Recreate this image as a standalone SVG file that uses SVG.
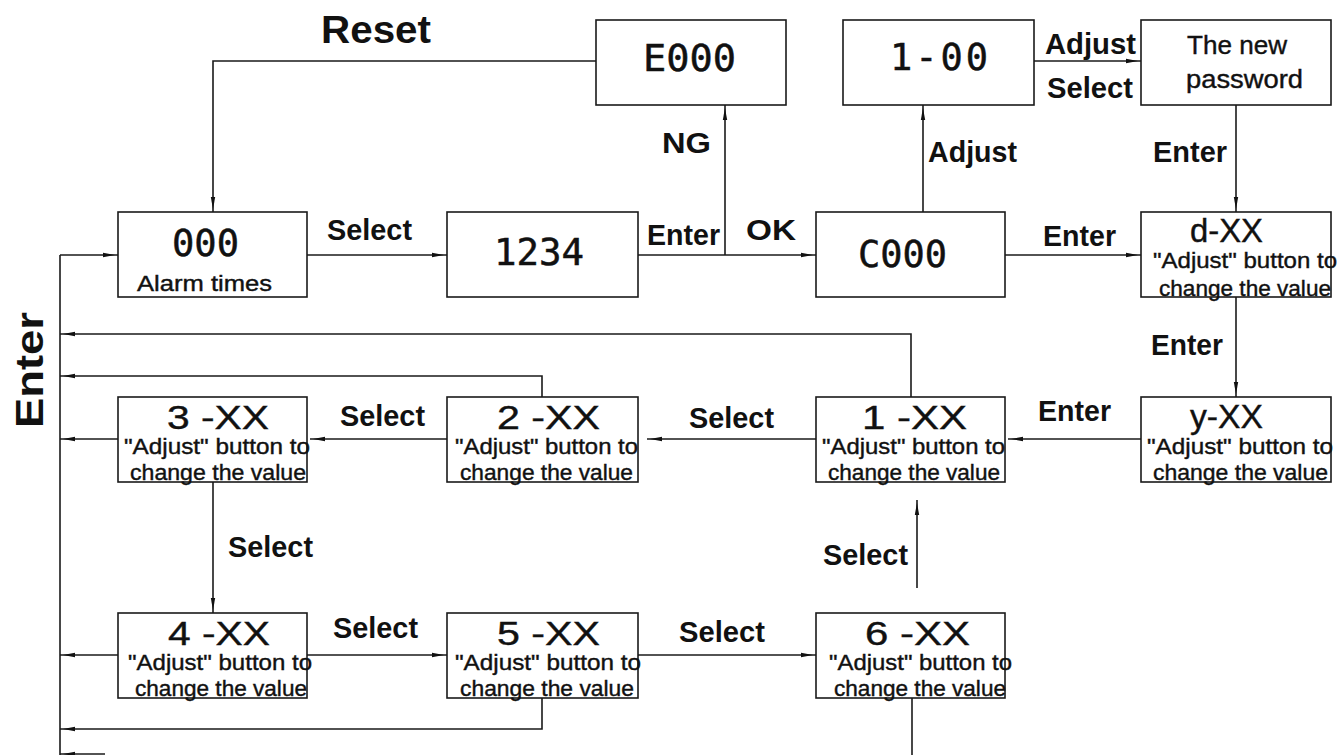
<svg xmlns="http://www.w3.org/2000/svg" width="1341" height="755" viewBox="0 0 1341 755">
<style>
.box{fill:#fff;stroke:#1a1a1a;stroke-width:1.6}
.ln{fill:none;stroke:#1a1a1a;stroke-width:1.6}
.ar{marker-end:url(#ah)}
.lbl{font-family:"Liberation Sans",Arial,sans-serif;font-weight:bold;font-size:29px;fill:#111}
.big{font-family:"Liberation Sans",Arial,sans-serif;font-weight:bold;font-size:38px;fill:#111}
.dig{font-family:"DejaVu Sans Mono","Liberation Mono",monospace;font-size:37px;fill:#111;stroke:#111;stroke-width:0.5}
.ttl{font-family:"Liberation Sans",Arial,sans-serif;font-size:33px;fill:#111;stroke:#111;stroke-width:0.4}
.sub{font-family:"Liberation Sans",Arial,sans-serif;font-size:22px;fill:#111;stroke:#111;stroke-width:0.4}
.pw{font-family:"Liberation Sans",Arial,sans-serif;font-size:26px;fill:#111;stroke:#111;stroke-width:0.4}
</style>
<defs>
<marker id="ah" viewBox="0 0 12 6" markerWidth="12" markerHeight="6" refX="15" refY="3" orient="auto" markerUnits="userSpaceOnUse">
<path d="M0,0.8 L12,3 L0,5.2 z" fill="#111"/>
</marker>
</defs>
<rect width="1341" height="755" fill="#fff"/>

<g id="connectors">
<path class="ln" d="M60,255 V755"/>
<path class="ln ar" d="M60,255 H118"/>
<path class="ln ar" d="M596,61 H213 V212"/>
<path class="ln ar" d="M307,255 H447"/>
<path class="ln ar" d="M638,255 H816"/>
<path class="ln ar" d="M725,255 V105"/>
<path class="ln ar" d="M923,212 V105"/>
<path class="ln ar" d="M1034,61 H1141"/>
<path class="ln ar" d="M1005,255 H1141"/>
<path class="ln ar" d="M1236,105 V212"/>
<path class="ln ar" d="M1236,297 V397"/>
<path class="ln ar" d="M1141,439 H1008"/>
<path class="ln ar" d="M816,439 H647"/>
<path class="ln ar" d="M447,439 H310"/>
<path class="ln ar" d="M118,439 H60"/>
<path class="ln ar" d="M911,397 V334 H60"/>
<path class="ln ar" d="M542,397 V376 H60"/>
<path class="ln ar" d="M213,482 V613"/>
<path class="ln ar" d="M307,655 H447"/>
<path class="ln ar" d="M638,655 H816"/>
<path class="ln ar" d="M118,655 H60"/>
<path class="ln ar" d="M917,588 V500"/>
<path class="ln ar" d="M542,698 V729 H60"/>
<path class="ln" d="M912,698 V755"/>
<path class="ln ar" d="M105,754 H60"/>
</g>

<g id="labels">
<text class="big" x="321" y="43" textLength="110" lengthAdjust="spacingAndGlyphs">Reset</text>
<text class="big" transform="translate(43,428) rotate(-90)" textLength="116" lengthAdjust="spacingAndGlyphs">Enter</text>
<text class="lbl" x="327" y="240" textLength="85" lengthAdjust="spacingAndGlyphs">Select</text>
<text class="lbl" x="647" y="245" textLength="73" lengthAdjust="spacingAndGlyphs">Enter</text>
<text class="lbl" x="746" y="240" textLength="50" lengthAdjust="spacingAndGlyphs">OK</text>
<text class="lbl" x="662" y="153" textLength="49" lengthAdjust="spacingAndGlyphs">NG</text>
<text class="lbl" x="1045" y="54" textLength="91" lengthAdjust="spacingAndGlyphs">Adjust</text>
<text class="lbl" x="1047" y="98" textLength="86" lengthAdjust="spacingAndGlyphs">Select</text>
<text class="lbl" x="928" y="162" textLength="89" lengthAdjust="spacingAndGlyphs">Adjust</text>
<text class="lbl" x="1153" y="162" textLength="74" lengthAdjust="spacingAndGlyphs">Enter</text>
<text class="lbl" x="1043" y="246" textLength="73" lengthAdjust="spacingAndGlyphs">Enter</text>
<text class="lbl" x="1151" y="355" textLength="72" lengthAdjust="spacingAndGlyphs">Enter</text>
<text class="lbl" x="1038" y="421" textLength="73" lengthAdjust="spacingAndGlyphs">Enter</text>
<text class="lbl" x="689" y="428" textLength="85" lengthAdjust="spacingAndGlyphs">Select</text>
<text class="lbl" x="340" y="426" textLength="85" lengthAdjust="spacingAndGlyphs">Select</text>
<text class="lbl" x="228" y="557" textLength="85" lengthAdjust="spacingAndGlyphs">Select</text>
<text class="lbl" x="333" y="638" textLength="85" lengthAdjust="spacingAndGlyphs">Select</text>
<text class="lbl" x="679" y="642" textLength="86" lengthAdjust="spacingAndGlyphs">Select</text>
<text class="lbl" x="823" y="565" textLength="85" lengthAdjust="spacingAndGlyphs">Select</text>
</g>

<g id="n000">
<rect class="box" x="118" y="212" width="189" height="85"/>
<text class="dig" x="172" y="256" textLength="67" lengthAdjust="spacingAndGlyphs">000</text>
<text class="sub" x="137" y="291" textLength="135" lengthAdjust="spacingAndGlyphs">Alarm times</text>
</g>
<g id="n1234">
<rect class="box" x="447" y="212" width="191" height="85"/>
<text class="dig" x="494" y="265" textLength="90" lengthAdjust="spacingAndGlyphs">1234</text>
</g>
<g id="nE000">
<rect class="box" x="596" y="20" width="190" height="85"/>
<text class="dig" x="643" y="71" textLength="93" lengthAdjust="spacingAndGlyphs">E000</text>
</g>
<g id="n100">
<rect class="box" x="843" y="20" width="191" height="85"/>
<text class="dig" x="890" y="70" textLength="98" lengthAdjust="spacing">1-00</text>
</g>
<g id="nNewPassword">
<rect class="box" x="1141" y="20" width="190" height="85"/>
<text class="pw" x="1187" y="54" textLength="100" lengthAdjust="spacingAndGlyphs">The new</text>
<text class="pw" x="1186" y="88" textLength="117" lengthAdjust="spacingAndGlyphs">password</text>
</g>
<g id="nC000">
<rect class="box" x="816" y="212" width="189" height="85"/>
<text class="dig" x="858" y="267" textLength="89" lengthAdjust="spacingAndGlyphs">C000</text>
</g>
<g id="nd">
<rect class="box" x="1141" y="212" width="190" height="85"/>
<text class="ttl" x="1190" y="242" textLength="73" lengthAdjust="spacingAndGlyphs">d-XX</text>
<text class="sub" x="1153" y="268" textLength="184" lengthAdjust="spacingAndGlyphs">"Adjust" button to</text>
<text class="sub" x="1159" y="296" textLength="172" lengthAdjust="spacingAndGlyphs">change the value</text>
</g>
<g id="ny">
<rect class="box" x="1141" y="397" width="190" height="85"/>
<text class="ttl" x="1190" y="428" textLength="73" lengthAdjust="spacingAndGlyphs">y-XX</text>
<text class="sub" x="1147" y="454" textLength="186" lengthAdjust="spacingAndGlyphs">"Adjust" button to</text>
<text class="sub" x="1153" y="480" textLength="175" lengthAdjust="spacingAndGlyphs">change the value</text>
</g>
<g id="n1">
<rect class="box" x="816" y="397" width="189" height="85"/>
<text class="ttl" x="862" y="429" textLength="105" lengthAdjust="spacingAndGlyphs">1 -XX</text>
<text class="sub" x="822" y="454" textLength="183" lengthAdjust="spacingAndGlyphs">"Adjust" button to</text>
<text class="sub" x="828" y="480" textLength="172" lengthAdjust="spacingAndGlyphs">change the value</text>
</g>
<g id="n2">
<rect class="box" x="447" y="397" width="191" height="85"/>
<text class="ttl" x="497" y="429" textLength="103" lengthAdjust="spacingAndGlyphs">2 -XX</text>
<text class="sub" x="455" y="454" textLength="183" lengthAdjust="spacingAndGlyphs">"Adjust" button to</text>
<text class="sub" x="460" y="480" textLength="173" lengthAdjust="spacingAndGlyphs">change the value</text>
</g>
<g id="n3">
<rect class="box" x="118" y="397" width="189" height="85"/>
<text class="ttl" x="167" y="429" textLength="102" lengthAdjust="spacingAndGlyphs">3 -XX</text>
<text class="sub" x="124" y="454" textLength="186" lengthAdjust="spacingAndGlyphs">"Adjust" button to</text>
<text class="sub" x="130" y="480" textLength="176" lengthAdjust="spacingAndGlyphs">change the value</text>
</g>
<g id="n4">
<rect class="box" x="118" y="613" width="189" height="85"/>
<text class="ttl" x="168" y="645" textLength="102" lengthAdjust="spacingAndGlyphs">4 -XX</text>
<text class="sub" x="128" y="670" textLength="184" lengthAdjust="spacingAndGlyphs">"Adjust" button to</text>
<text class="sub" x="135" y="696" textLength="172" lengthAdjust="spacingAndGlyphs">change the value</text>
</g>
<g id="n5">
<rect class="box" x="447" y="613" width="191" height="85"/>
<text class="ttl" x="497" y="645" textLength="103" lengthAdjust="spacingAndGlyphs">5 -XX</text>
<text class="sub" x="455" y="670" textLength="186" lengthAdjust="spacingAndGlyphs">"Adjust" button to</text>
<text class="sub" x="460" y="696" textLength="174" lengthAdjust="spacingAndGlyphs">change the value</text>
</g>
<g id="n6">
<rect class="box" x="816" y="613" width="189" height="85"/>
<text class="ttl" x="865" y="645" textLength="105" lengthAdjust="spacingAndGlyphs">6 -XX</text>
<text class="sub" x="829" y="670" textLength="183" lengthAdjust="spacingAndGlyphs">"Adjust" button to</text>
<text class="sub" x="834" y="696" textLength="172" lengthAdjust="spacingAndGlyphs">change the value</text>
</g>
</svg>
